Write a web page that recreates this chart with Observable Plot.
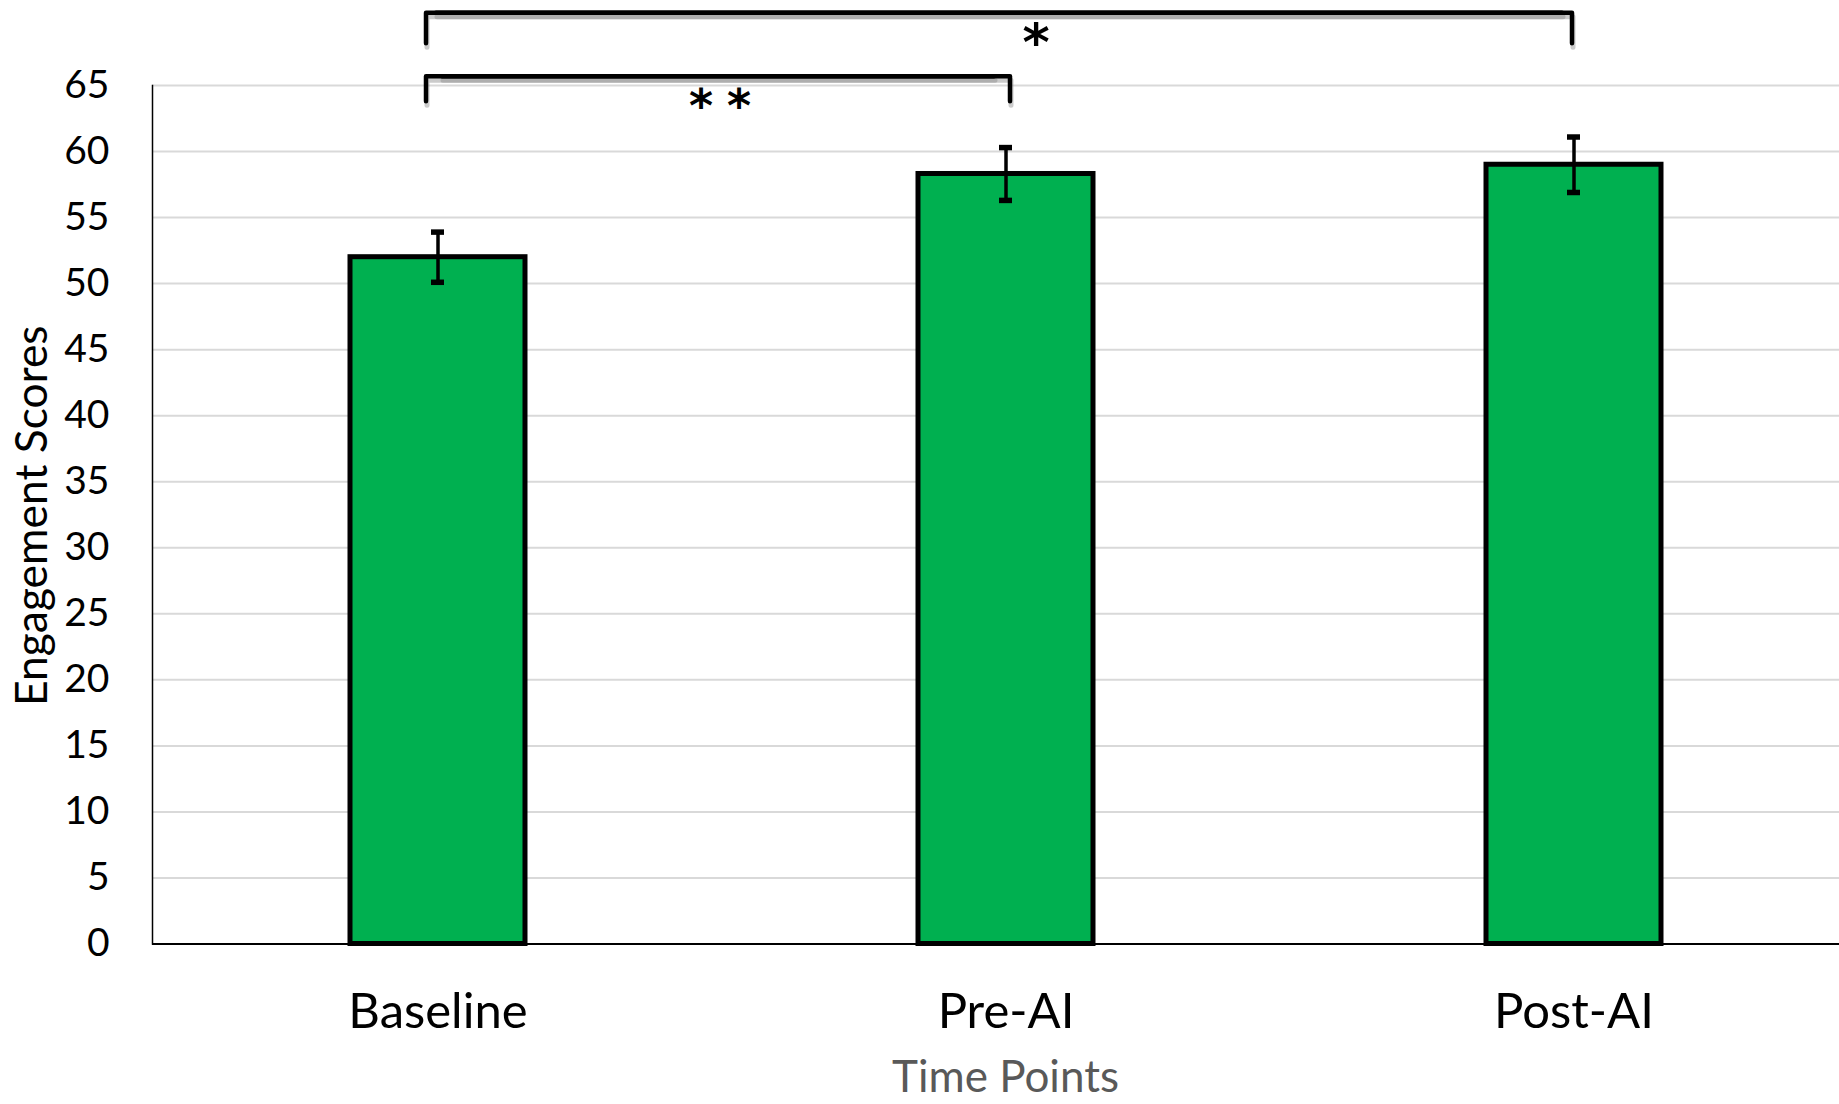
<!DOCTYPE html>
<html><head><meta charset="utf-8">
<script src="https://cdn.jsdelivr.net/npm/d3@7"></script>
<script src="https://cdn.jsdelivr.net/npm/@observablehq/plot@0.6"></script>
<style>
html,body{margin:0;padding:0;background:#fff;overflow:hidden}
#chart svg{display:block}
</style></head><body><div id="chart"></div>
<script>
const timePoints = ["Baseline", "Pre-AI", "Post-AI"];
const meanScores = [52.0, 58.3, 59.0];
const errorSizes = [1.9, 2.0, 2.1];
const yTicks = [0, 5, 10, 15, 20, 25, 30, 35, 40, 45, 50, 55, 60, 65];
const bracketFrom = ["Baseline", "Baseline"];
const bracketTo = ["Pre-AI", "Post-AI"];
const bracketTop = [65.7, 70.5];
const bracketFoot = [63.8, 68.2];
const bracketLabels = ["**", "*"];
const xTitle = "Time Points";
const yTitle = "Engagement Scores";

const bars = timePoints.map((t, i) => ({t, mean: meanScores[i], lo: meanScores[i] - errorSizes[i], hi: meanScores[i] + errorSizes[i]}));
// each bracket drawn as a left half (foot→corner→top) and a right half (top→corner→foot)
const leftHalves = bracketFrom.flatMap((f, i) => [
  {id: i, t: f, y: bracketFoot[i]},
  {id: i, t: f, y: bracketTop[i]},
  {id: i, t: bracketTo[i], y: bracketTop[i]}
]);
const rightHalves = bracketFrom.map((f, i) => [
  {id: i, t: f, y: bracketTop[i]},
  {id: i, t: bracketTo[i], y: bracketTop[i]},
  {id: i, t: bracketTo[i], y: bracketFoot[i]}
]);

const bracketStyle = {x: "t", y: "y", z: "id", stroke: "#000", strokeWidth: 4.5, strokeLinejoin: "round"};
const shadowStyle = {x: "t", y: "y", z: "id", stroke: "#8c8c8c", strokeOpacity: 0.45, strokeWidth: 5, strokeLinejoin: "round"};

const W = 1839, H = 1104;
const chart = Plot.plot({
  width: W, height: H,
  marginLeft: 152, marginRight: 0, marginTop: 85, marginBottom: 160.5,
  style: {fontFamily: "Lato, 'Open Sans', sans-serif", background: "#fff", color: "#000"},
  x: {domain: timePoints, range: [152, 1858], paddingInner: 0.6925, paddingOuter: 0.346, label: null},
  y: {domain: [0, 65], label: null},
  marks: [
    Plot.gridY(yTicks, {stroke: "#d9d9d9", strokeOpacity: 1, strokeWidth: 2}),
    Plot.axisY(yTicks, {tickSize: 0, tickPadding: 43, fontSize: 39, label: null, fill: "#000"}),
    Plot.axisX({tickSize: 0, tickPadding: 49.7, fontSize: 49, label: null, fill: "#000"}),
    Plot.frame({anchor: "left", stroke: "#000", strokeWidth: 1.5}),
    Plot.ruleY([0], {stroke: "#000", strokeWidth: 2}),
    Plot.barY(bars, {x: "t", y: "mean", fill: "#00B050", stroke: "#000", strokeWidth: 5}),
    Plot.ruleX(bars, {x: "t", y1: "lo", y2: "hi", stroke: "#000", strokeWidth: 3.5}),
    Plot.tickY(bars, {x: "t", y: "hi", stroke: "#000", strokeWidth: 5.5, insetLeft: 81, insetRight: 81}),
    Plot.tickY(bars, {x: "t", y: "lo", stroke: "#000", strokeWidth: 5.5, insetLeft: 81, insetRight: 81}),
    // shadows
    Plot.line(leftHalves, {...shadowStyle, dx: -11, dy: 4}),
    Plot.line(rightHalves[0], {...shadowStyle, dx: 5, dy: 4}),
    Plot.line(rightHalves[1], {...shadowStyle, dx: -1, dy: 4}),
    // brackets
    Plot.line(leftHalves, {...bracketStyle, dx: -12}),
    Plot.line(rightHalves[0], {...bracketStyle, dx: 4}),
    Plot.line(rightHalves[1], {...bracketStyle, dx: -2}),
    Plot.text([bracketLabels[0]], {x: [bracketFrom[0]], y: [bracketTop[0]], text: d => d, dx: 289, dy: 13, lineAnchor: "top", fontFamily: "DejaVu Sans", fontWeight: "bold", fontSize: 46, fill: "#000"}),
    Plot.text([bracketLabels[1]], {x: [bracketTo[0]], y: [bracketTop[1]], text: d => d, dx: 30, dy: 10, lineAnchor: "top", fontFamily: "DejaVu Sans", fontWeight: "bold", fontSize: 52, fill: "#000"}),
    Plot.text([yTitle], {frameAnchor: "left", textAnchor: "middle", dx: -120, dy: 1, rotate: -90, fontSize: 44.4, fill: "#000"}),
    Plot.text([xTitle], {frameAnchor: "bottom", dx: 9.5, dy: 148, lineAnchor: "bottom", fontSize: 44, fill: "#595959"})
  ]
});
d3.select(chart).selectAll("text").filter(function () { return this.textContent === bracketLabels[0]; }).style("letter-spacing", "14px");
document.getElementById("chart").appendChild(chart);
</script></body></html>
